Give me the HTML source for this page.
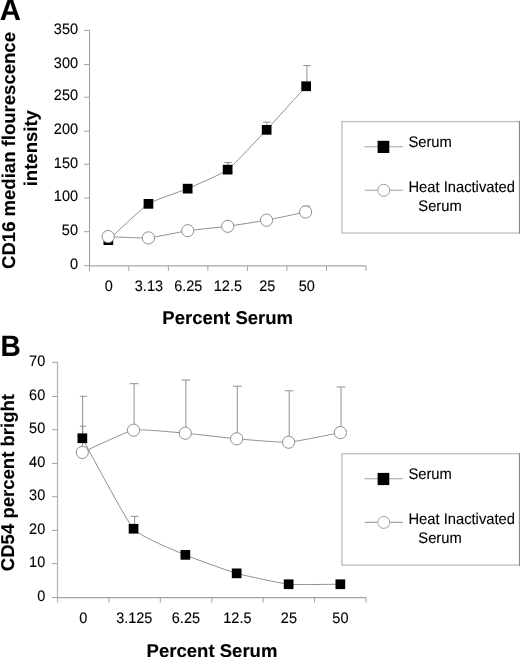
<!DOCTYPE html>
<html><head><meta charset="utf-8"><title>Figure</title>
<style>
html,body{margin:0;padding:0;background:#fff;}
body{width:520px;height:657px;overflow:hidden;font-family:"Liberation Sans", sans-serif;}
svg{display:block;filter:grayscale(1);}
svg text{font-family:"Liberation Sans", sans-serif;fill:#000;stroke:#000;stroke-width:0.12px;text-rendering:geometricPrecision;}
</style></head><body>
<svg width="520" height="657" viewBox="0 0 520 657">
<rect width="520" height="657" fill="#fff"/>
<path d="M89.5,30.1 V270.9" stroke="#9a9a9a" stroke-width="1" fill="none"/>
<path d="M84.1,265.7 H89.5 M84.1,231.7 H89.5 M84.1,198.0 H89.5 M84.1,164.3 H89.5 M84.1,131.2 H89.5 M84.1,97.2 H89.5 M84.1,64.6 H89.5 M84.1,30.4 H89.5 " stroke="#a2a2a2" stroke-width="1" fill="none"/>
<path d="M89.5,265.8 H366.0" stroke="#a8a8a8" stroke-width="1.3" fill="none"/>
<path d="M128.8,265.7 V270.9 M168.4,265.7 V270.9 M207.9,265.7 V270.9 M247.4,265.7 V270.9 M286.9,265.7 V270.9 M326.5,265.7 V270.9 M366.0,265.7 V270.9 " stroke="#a2a2a2" stroke-width="1" fill="none"/>
<text transform="translate(78 268.9) scale(0.954 1)" text-anchor="end" font-size="15.2">0</text>
<text transform="translate(78 234.9) scale(0.954 1)" text-anchor="end" font-size="15.2">50</text>
<text transform="translate(78 201.2) scale(0.954 1)" text-anchor="end" font-size="15.2">100</text>
<text transform="translate(78 167.5) scale(0.954 1)" text-anchor="end" font-size="15.2">150</text>
<text transform="translate(78 134.4) scale(0.954 1)" text-anchor="end" font-size="15.2">200</text>
<text transform="translate(78 100.4) scale(0.954 1)" text-anchor="end" font-size="15.2">250</text>
<text transform="translate(78 67.8) scale(0.954 1)" text-anchor="end" font-size="15.2">300</text>
<text transform="translate(78 33.6) scale(0.954 1)" text-anchor="end" font-size="15.2">350</text>
<text transform="translate(108.7 291) scale(0.954 1)" text-anchor="middle" font-size="15.2">0</text>
<text transform="translate(148.9 291) scale(0.954 1)" text-anchor="middle" font-size="15.2">3.13</text>
<text transform="translate(188.3 291) scale(0.954 1)" text-anchor="middle" font-size="15.2">6.25</text>
<text transform="translate(227.9 291) scale(0.954 1)" text-anchor="middle" font-size="15.2">12.5</text>
<text transform="translate(267.3 291) scale(0.954 1)" text-anchor="middle" font-size="15.2">25</text>
<text transform="translate(306.8 291) scale(0.954 1)" text-anchor="middle" font-size="15.2">50</text>
<path d="M227.9,169.7 V162.5 M224.2,162.5 H231.7" stroke="#868686" stroke-width="0.9" fill="none"/>
<path d="M266.9,129.8 V122.1 M263.1,122.1 H270.6" stroke="#868686" stroke-width="0.9" fill="none"/>
<path d="M306.9,86.2 V65.6 M303.1,65.6 H310.6" stroke="#868686" stroke-width="0.9" fill="none"/>
<path d="M306.6,212.3 V206.2 M302.9,206.2 H310.4" stroke="#868686" stroke-width="0.9" fill="none"/>
<path d="M108.3,240.2 C111.2,237.5 142.6,207.6 148.4,203.8 C154.2,200.0 181.9,191.1 187.7,188.6 C193.5,186.1 221.9,174.0 227.7,169.7 C233.5,165.4 260.8,135.9 266.6,129.8 C272.4,123.7 303.3,89.4 306.2,86.2" stroke="#7c7c7c" stroke-width="0.85" fill="none"/>
<path d="M108.2,236.6 C111.1,236.7 142.6,238.3 148.4,237.9 C154.2,237.5 181.9,231.6 187.7,230.7 C193.5,229.8 221.9,227.1 227.7,226.3 C233.5,225.5 260.8,221.2 266.5,220.2 C272.2,219.2 302.7,212.6 305.6,212.0" stroke="#7c7c7c" stroke-width="0.85" fill="none"/>
<rect x="103.5" y="235.3" width="9.7" height="9.7" fill="#000"/>
<rect x="143.6" y="199.0" width="9.7" height="9.7" fill="#000"/>
<rect x="182.8" y="183.8" width="9.7" height="9.7" fill="#000"/>
<rect x="222.8" y="164.8" width="9.7" height="9.7" fill="#000"/>
<rect x="261.8" y="125.0" width="9.7" height="9.7" fill="#000"/>
<rect x="301.3" y="81.4" width="9.7" height="9.7" fill="#000"/>
<circle cx="108.2" cy="236.6" r="6.1" fill="#fff" stroke="#8a8a8a" stroke-width="0.95"/>
<circle cx="148.4" cy="237.9" r="6.1" fill="#fff" stroke="#8a8a8a" stroke-width="0.95"/>
<circle cx="187.7" cy="230.7" r="6.1" fill="#fff" stroke="#8a8a8a" stroke-width="0.95"/>
<circle cx="227.7" cy="226.3" r="6.1" fill="#fff" stroke="#8a8a8a" stroke-width="0.95"/>
<circle cx="266.5" cy="220.2" r="6.1" fill="#fff" stroke="#8a8a8a" stroke-width="0.95"/>
<circle cx="305.6" cy="212.0" r="6.1" fill="#fff" stroke="#8a8a8a" stroke-width="0.95"/>
<rect x="341.9" y="121.6" width="177.6" height="111.4" fill="#fff" stroke="#c4c4c4" stroke-width="1.45"/>
<path d="M519.5,120.9 V233.7" stroke="#8a8a8a" stroke-width="1" fill="none"/>
<path d="M364.6,146.7 H403 M364.6,190.3 H403" stroke="#a4a4a4" stroke-width="1.1" fill="none"/>
<rect x="377.6" y="140.8" width="11.7" height="12.2" fill="#000"/>
<circle cx="383.8" cy="190.3" r="6.0" fill="#fff" stroke="#9c9c9c" stroke-width="0.95"/>
<text transform="translate(408.4 146.9) scale(0.958 1)" text-anchor="start" font-size="15.4">Serum</text>
<text transform="translate(408.4 191.5) scale(0.958 1)" text-anchor="start" font-size="15.4">Heat Inactivated</text>
<text transform="translate(418.3 210.7) scale(0.958 1)" text-anchor="start" font-size="15.4">Serum</text>
<text transform="translate(227.7 323.8)" text-anchor="middle" font-size="18.55" font-weight="bold">Percent Serum</text>
<text transform="translate(14.6 150.5) rotate(-90)" text-anchor="middle" font-size="18.55" font-weight="bold">CD16 median flourescence</text>
<text transform="translate(37.1 148.2) rotate(-90)" text-anchor="middle" font-size="18.55" font-weight="bold">intensity</text>
<text transform="translate(-0.3 20.2) scale(0.975 1)" font-size="30" font-weight="bold">A</text>
<path d="M57.5,362.0 V602.7" stroke="#b2b2b2" stroke-width="1.25" fill="none"/>
<path d="M52.1,597.5 H57.5 M52.1,563.6 H57.5 M52.1,530.4 H57.5 M52.1,496.7 H57.5 M52.1,463.4 H57.5 M52.1,429.7 H57.5 M52.1,396.5 H57.5 M52.1,362.3 H57.5 " stroke="#a2a2a2" stroke-width="1" fill="none"/>
<path d="M57.5,597.6 H366.0" stroke="#a4a4a4" stroke-width="1.3" fill="none"/>
<path d="M108.9,597.5 V602.7 M160.3,597.5 V602.7 M211.8,597.5 V602.7 M263.2,597.5 V602.7 M314.6,597.5 V602.7 M366.0,597.5 V602.7 " stroke="#a2a2a2" stroke-width="1" fill="none"/>
<text transform="translate(45.2 601.0) scale(0.954 1)" text-anchor="end" font-size="15.2">0</text>
<text transform="translate(45.2 567.1) scale(0.954 1)" text-anchor="end" font-size="15.2">10</text>
<text transform="translate(45.2 533.9) scale(0.954 1)" text-anchor="end" font-size="15.2">20</text>
<text transform="translate(45.2 500.2) scale(0.954 1)" text-anchor="end" font-size="15.2">30</text>
<text transform="translate(45.2 466.9) scale(0.954 1)" text-anchor="end" font-size="15.2">40</text>
<text transform="translate(45.2 433.2) scale(0.954 1)" text-anchor="end" font-size="15.2">50</text>
<text transform="translate(45.2 400.0) scale(0.954 1)" text-anchor="end" font-size="15.2">60</text>
<text transform="translate(45.2 365.8) scale(0.954 1)" text-anchor="end" font-size="15.2">70</text>
<text transform="translate(83.2 623.3) scale(0.954 1)" text-anchor="middle" font-size="15.2">0</text>
<text transform="translate(134.3 623.3) scale(0.954 1)" text-anchor="middle" font-size="15.2">3.125</text>
<text transform="translate(185.9 623.3) scale(0.954 1)" text-anchor="middle" font-size="15.2">6.25</text>
<text transform="translate(237.4 623.3) scale(0.954 1)" text-anchor="middle" font-size="15.2">12.5</text>
<text transform="translate(288.9 623.3) scale(0.954 1)" text-anchor="middle" font-size="15.2">25</text>
<text transform="translate(340.4 623.3) scale(0.954 1)" text-anchor="middle" font-size="15.2">50</text>
<path d="M82.6,452.4 V396.3 M79.8,396.3 H87.2" stroke="#868686" stroke-width="0.9" fill="none"/>
<path d="M134.1,430.2 V383.7 M129.7,383.7 H138.5" stroke="#868686" stroke-width="0.9" fill="none"/>
<path d="M185.9,433.2 V380.0 M181.5,380.0 H190.3" stroke="#868686" stroke-width="0.9" fill="none"/>
<path d="M237.3,438.8 V386.2 M232.9,386.2 H241.7" stroke="#868686" stroke-width="0.9" fill="none"/>
<path d="M289.2,442.2 V390.8 M284.8,390.8 H293.6" stroke="#868686" stroke-width="0.9" fill="none"/>
<path d="M341.0,432.6 V387.0 M336.6,387.0 H345.4" stroke="#868686" stroke-width="0.9" fill="none"/>
<path d="M82.6,438.3 V426.2 M79.9,426.2 H86.1" stroke="#868686" stroke-width="0.9" fill="none"/>
<path d="M134.6,528.8 V516.3 M130.6,516.3 H138.6" stroke="#868686" stroke-width="0.9" fill="none"/>
<path d="M82.3,438.3 C86.1,444.9 125.9,520.2 133.5,528.8 C141.1,537.4 177.7,551.6 185.3,554.9 C192.9,558.2 229.1,571.3 236.7,573.4 C244.3,575.5 281.0,583.4 288.6,584.2 C296.2,585.0 336.6,584.2 340.4,584.2" stroke="#7c7c7c" stroke-width="0.85" fill="none"/>
<path d="M82.3,452.4 C86.1,450.8 125.9,431.6 133.5,430.2 C141.1,428.8 177.7,432.6 185.3,433.2 C192.9,433.8 229.1,438.1 236.7,438.8 C244.3,439.5 281.0,442.7 288.6,442.2 C296.2,441.7 336.6,433.3 340.4,432.6" stroke="#7c7c7c" stroke-width="0.85" fill="none"/>
<rect x="77.5" y="433.4" width="9.7" height="9.7" fill="#000"/>
<rect x="128.7" y="523.9" width="9.7" height="9.7" fill="#000"/>
<rect x="180.5" y="550.0" width="9.7" height="9.7" fill="#000"/>
<rect x="231.8" y="568.5" width="9.7" height="9.7" fill="#000"/>
<rect x="283.8" y="579.4" width="9.7" height="9.7" fill="#000"/>
<rect x="335.5" y="579.4" width="9.7" height="9.7" fill="#000"/>
<circle cx="82.3" cy="452.4" r="6.1" fill="#fff" stroke="#8a8a8a" stroke-width="0.95"/>
<circle cx="133.5" cy="430.2" r="6.1" fill="#fff" stroke="#8a8a8a" stroke-width="0.95"/>
<circle cx="185.3" cy="433.2" r="6.1" fill="#fff" stroke="#8a8a8a" stroke-width="0.95"/>
<circle cx="236.7" cy="438.8" r="6.1" fill="#fff" stroke="#8a8a8a" stroke-width="0.95"/>
<circle cx="288.6" cy="442.2" r="6.1" fill="#fff" stroke="#8a8a8a" stroke-width="0.95"/>
<circle cx="340.4" cy="432.6" r="6.1" fill="#fff" stroke="#8a8a8a" stroke-width="0.95"/>
<rect x="341.9" y="453.7" width="177.6" height="111.4" fill="#fff" stroke="#c4c4c4" stroke-width="1.45"/>
<path d="M519.5,453.0 V565.8" stroke="#8a8a8a" stroke-width="1" fill="none"/>
<path d="M364.6,478.8 H403 M364.6,522.4 H403" stroke="#a4a4a4" stroke-width="1.1" fill="none"/>
<rect x="377.6" y="472.9" width="11.7" height="12.2" fill="#000"/>
<circle cx="383.8" cy="522.4" r="6.0" fill="#fff" stroke="#9c9c9c" stroke-width="0.95"/>
<text transform="translate(408.4 479.0) scale(0.958 1)" text-anchor="start" font-size="15.4">Serum</text>
<text transform="translate(408.4 523.6) scale(0.958 1)" text-anchor="start" font-size="15.4">Heat Inactivated</text>
<text transform="translate(418.3 542.8) scale(0.958 1)" text-anchor="start" font-size="15.4">Serum</text>
<text transform="translate(212 656.5)" text-anchor="middle" font-size="18.55" font-weight="bold">Percent Serum</text>
<text transform="translate(14.4 482.6) rotate(-90)" text-anchor="middle" font-size="18.55" font-weight="bold">CD54 percent bright</text>
<text transform="translate(0.5 356.3) scale(0.95 1)" font-size="29.5" font-weight="bold">B</text>
</svg>
</body></html>
